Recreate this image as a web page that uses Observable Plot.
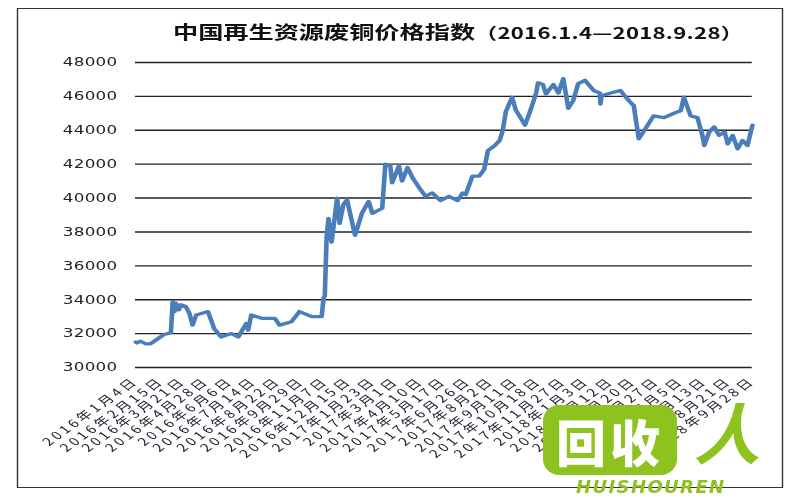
<!DOCTYPE html>
<html>
<head>
<meta charset="utf-8">
<script src="https://cdn.jsdelivr.net/npm/d3@7"></script>
<script src="https://cdn.jsdelivr.net/npm/@observablehq/plot@0.6"></script>
<style>
  html, body { margin: 0; padding: 0; background: #fff; }
  #page { position: relative; width: 800px; height: 500px; overflow: hidden; }
  #stretch { position: absolute; left: 0; top: 0; width: 572px; height: 500px;
             transform: scaleX(1.3986); transform-origin: 0 0; }
  #frame { position: absolute; left: 12px; top: 8px; width: 546px; height: 478px;
           border: 1.5px solid #333; box-sizing: content-box; }
  #title { position: absolute; left: 0; width: 655px; top: 18px; text-align: center;
           font-family: "Noto Sans CJK SC", sans-serif; font-weight: 700; font-size: 18px;
           color: #111; white-space: nowrap; }
  #title .num { font-size: 15.8px; letter-spacing: 0.2px; }
  #chart { position: absolute; left: 0; top: 0; }
  #logo { position: absolute; left: 543px; top: 405px; width: 134px; height: 70px;
          background: #8dc21f; border-radius: 16px; color: #fff;
          font-family: "Noto Sans CJK SC", sans-serif; font-weight: 900; font-size: 50px;
          line-height: 70px; text-align: center; letter-spacing: 4px; }
  #logoRen { position: absolute; left: 694px; top: 397px; color: #8dc21f;
             font-family: "Noto Sans CJK SC", sans-serif; font-weight: 700; font-size: 66px;
             font-style: italic; line-height: 66px; }
  #logoTxt { position: absolute; left: 576px; top: 477px; color: #8dc21f;
             font-family: "DejaVu Sans", sans-serif; font-weight: 700; font-style: italic;
             font-size: 18px; letter-spacing: 1.4px; line-height: 20px; }
</style>
</head>
<body>
<div id="page">
  <div id="stretch">
    <div id="frame"></div>
    <div id="chart"></div>
    <div id="title">中国再生资源废铜价格指数<span class="num">（2016.1.4—2018.9.28）</span></div>
  </div>
  <div id="logo">回收</div>
  <div id="logoRen">人</div>
  <div id="logoTxt">HUISHOUREN</div>
</div>
<script>
const dates = [
  "2016-01-04","2016-01-06","2016-01-12","2016-01-20","2016-01-28","2016-02-19","2016-03-01","2016-03-04",
  "2016-03-07","2016-03-09","2016-03-14","2016-03-17","2016-03-25","2016-03-31","2016-04-05","2016-04-11",
  "2016-04-30","2016-05-10","2016-05-21","2016-06-07","2016-06-18","2016-07-01","2016-07-04","2016-07-09",
  "2016-07-26","2016-08-16","2016-08-24","2016-09-12","2016-09-25","2016-10-15","2016-10-31","2016-11-03",
  "2016-11-05","2016-11-08","2016-11-11","2016-11-16","2016-11-25","2016-11-29","2016-12-05","2016-12-11",
  "2016-12-24","2017-01-04","2017-01-15","2017-01-21","2017-02-06","2017-02-11","2017-02-19","2017-02-22",
  "2017-03-05","2017-03-10","2017-03-19","2017-03-27","2017-04-07","2017-04-17","2017-04-28","2017-05-11",
  "2017-05-25","2017-06-08","2017-06-16","2017-06-21","2017-07-02","2017-07-13","2017-07-21","2017-07-27",
  "2017-08-07","2017-08-15","2017-08-20","2017-08-25","2017-09-04","2017-09-10","2017-09-25","2017-10-05",
  "2017-10-13","2017-10-16","2017-10-24","2017-10-29","2017-11-10","2017-11-18","2017-11-26","2017-12-04",
  "2017-12-12","2017-12-20","2017-12-31","2018-01-14","2018-01-24","2018-01-25","2018-01-27","2018-02-26",
  "2018-03-12","2018-03-20","2018-03-28","2018-04-08","2018-04-21","2018-05-08","2018-05-27","2018-06-04",
  "2018-06-09","2018-06-20","2018-07-01","2018-07-09","2018-07-12","2018-07-20","2018-07-28","2018-08-05",
  "2018-08-14","2018-08-19","2018-08-27","2018-09-04","2018-09-12","2018-09-20","2018-09-28"
];
const values = [
  31500,31450,31550,31400,31400,31950,32050,33900,
  33300,33800,33400,33700,33600,33200,32500,33100,
  33300,32300,31800,32000,31800,32600,32200,33100,
  32900,32900,32500,32700,33300,33000,33000,34100,
  34200,37700,38800,37400,40000,38500,39600,39900,
  37800,39100,39800,39100,39400,42000,41900,40900,
  41900,41000,41800,41200,40600,40100,40300,39850,
  40100,39850,40300,40200,41300,41300,41700,42800,
  43100,43400,44000,45100,45950,45200,44300,45300,
  46200,46800,46700,46150,46700,46200,47050,45300,
  45750,46750,46950,46350,46200,45550,46050,46350,
  45750,45450,43500,44100,44850,44750,45050,45150,
  45950,44850,44750,43700,43100,43900,44200,43700,
  43900,43200,43700,42900,43400,43100,44300
];
const tickDates = [
  "2016-01-04","2016-02-15","2016-03-21","2016-04-28","2016-06-06","2016-07-14","2016-08-22","2016-09-29",
  "2016-11-07","2016-12-15","2017-01-23","2017-03-01","2017-04-10","2017-05-17","2017-06-26","2017-08-02",
  "2017-09-11","2017-10-18","2017-11-27","2018-01-03","2018-02-12","2018-03-20","2018-04-27","2018-06-05",
  "2018-07-13","2018-08-21","2018-09-28"
];
const tickLabels = [
  "2016年1月4日","2016年2月15日","2016年3月21日","2016年4月28日","2016年6月6日","2016年7月14日","2016年8月22日","2016年9月29日",
  "2016年11月7日","2016年12月15日","2017年1月23日","2017年3月1日","2017年4月10日","2017年5月17日","2017年6月26日","2017年8月2日",
  "2017年9月11日","2017年10月18日","2017年11月27日","2018年1月3日","2018年2月12日","2018年3月20日","2018年4月27日","2018年6月5日",
  "2018年7月13日","2018年8月21日","2018年9月28日"
];
const yTicks = [30000,32000,34000,36000,38000,40000,42000,44000,46000,48000];

const parse = d3.utcParse("%Y-%m-%d");
const data = dates.map((d, i) => ({date: parse(d), value: values[i]}));
const ticks = tickDates.map(parse);
const labelOf = new Map(ticks.map((t, i) => [+t, tickLabels[i]]));

const chart = Plot.plot({
  width: 572,
  height: 500,
  marginTop: 62,
  marginBottom: 133,
  marginLeft: 96.5,
  marginRight: 34.5,
  style: {background: "transparent", overflow: "visible"},
  x: {type: "utc", domain: [parse(dates[0]), parse(dates[dates.length - 1])]},
  y: {domain: [30000, 48000]},
  marks: [
    Plot.gridY(yTicks, {stroke: "#222", strokeOpacity: 1, strokeWidth: 1.4}),
    Plot.axisY(yTicks, {tickSize: 0, tickPadding: 13, tickFormat: d => String(d),
      fontSize: 12, fontFamily: "DejaVu Sans", fill: "#222", label: null}),
    Plot.axisX(ticks, {tickSize: 0, tickPadding: 12, tickRotate: -45,
      tickFormat: d => labelOf.get(+d), fontSize: 11, fontFamily: "Noto Sans CJK SC",
      fill: "#223", label: null}),
    Plot.line(data, {x: "date", y: "value", stroke: "#4a7ebb", strokeWidth: 3.3, strokeLinejoin: "round"})
  ]
});
chart.querySelectorAll("[aria-label='y-axis tick label'] text").forEach(t => t.style.letterSpacing = "0.2px");
chart.querySelectorAll("[aria-label='x-axis tick label'] text").forEach(t => t.style.letterSpacing = "2.4px");
document.getElementById("chart").appendChild(chart);
</script>
</body>
</html>
